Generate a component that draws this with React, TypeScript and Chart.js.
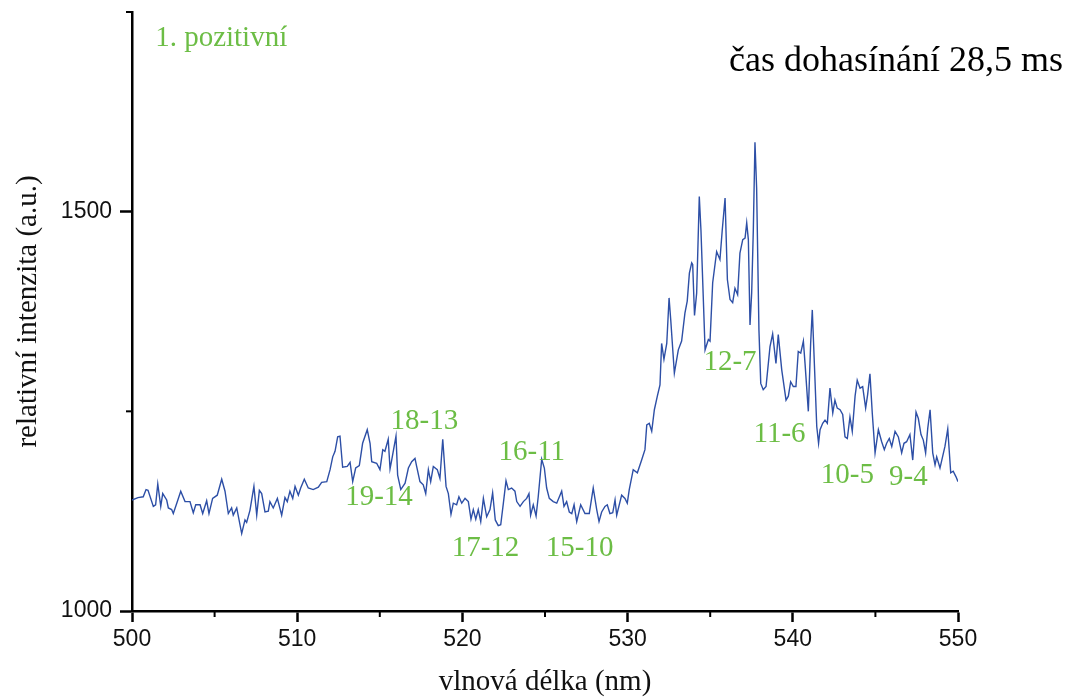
import React, { useEffect, useRef } from "react";
import { Chart, registerables } from "chart.js";

Chart.register(...registerables);

// wavelength (nm) and relative intensity (a.u.)
const wavelength = [
  500.0, 500.36, 500.68, 500.85, 500.97, 501.29, 501.43, 501.56, 501.74, 501.86,
  502.1, 502.2, 502.4, 502.5, 502.71, 502.95, 503.21, 503.51, 503.71, 503.86,
  504.12, 504.28, 504.52, 504.66, 504.88, 505.16, 505.43, 505.63, 505.83, 506.03,
  506.13, 506.34, 506.64, 506.84, 506.94, 507.14, 507.38, 507.55, 507.71, 507.85,
  508.05, 508.25, 508.35, 508.55, 508.8, 509.06, 509.26, 509.4, 509.56, 509.73,
  509.87, 510.07, 510.21, 510.43, 510.67, 510.97, 511.28, 511.48, 511.79, 511.99,
  512.15, 512.29, 512.45, 512.59, 512.75, 513.03, 513.2, 513.36, 513.54, 513.76,
  513.96, 514.24, 514.41, 514.51, 514.81, 515.01, 515.18, 515.31, 515.51, 515.62,
  515.72, 515.98, 516.08, 516.27, 516.53, 516.73, 516.93, 517.13, 517.23, 517.43,
  517.63, 517.78, 517.94, 518.08, 518.24, 518.48, 518.64, 518.81, 519.01, 519.15,
  519.31, 519.45, 519.65, 519.79, 519.96, 520.16, 520.36, 520.52, 520.66, 520.81,
  520.96, 521.11, 521.27, 521.47, 521.67, 521.83, 521.99, 522.17, 522.32, 522.48,
  522.64, 522.78, 522.98, 523.18, 523.29, 523.49, 523.69, 523.89, 524.03, 524.13,
  524.29, 524.46, 524.59, 524.8, 524.96, 525.1, 525.26, 525.5, 525.71, 526.01,
  526.15, 526.31, 526.47, 526.62, 526.76, 526.92, 527.16, 527.42, 527.68, 527.92,
  528.13, 528.27, 528.43, 528.63, 528.77, 528.93, 529.1, 529.24, 529.34, 529.64,
  529.84, 529.98, 530.1, 530.34, 530.59, 530.85, 531.05, 531.16, 531.31, 531.46,
  531.62, 531.8, 531.96, 532.06, 532.2, 532.37, 532.51, 532.61, 532.83, 533.07,
  533.27, 533.47, 533.61, 533.74, 533.88, 533.94, 534.05, 534.18, 534.34, 534.44,
  534.69, 534.89, 534.99, 535.15, 535.39, 535.59, 535.73, 535.9, 536.04, 536.2,
  536.36, 536.5, 536.66, 536.8, 536.97, 537.11, 537.21, 537.31, 537.41, 537.51,
  537.61, 537.71, 537.81, 537.95, 538.06, 538.21, 538.38, 538.62, 538.78, 538.98,
  539.12, 539.33, 539.59, 539.73, 539.87, 540.03, 540.19, 540.33, 540.48, 540.64,
  540.74, 540.94, 541.08, 541.18, 541.34, 541.45, 541.56, 541.65, 541.81, 541.95,
  542.09, 542.25, 542.42, 542.55, 542.69, 542.86, 543.02, 543.16, 543.3, 543.46,
  543.6, 543.77, 543.9, 544.07, 544.23, 544.41, 544.53, 544.67, 544.81, 544.98,
  545.18, 545.38, 545.54, 545.68, 545.84, 545.99, 546.19, 546.39, 546.59, 546.73,
  546.89, 547.09, 547.26, 547.46, 547.6, 547.76, 547.9, 548.04, 548.17, 548.31,
  548.47, 548.61, 548.71, 548.91, 549.21, 549.38, 549.56, 549.71, 549.88, 550.0,
];

const intensity = [
  1139, 1142, 1143, 1152, 1151, 1131, 1133, 1159, 1131, 1147,
  1139, 1129, 1127, 1122, 1135, 1150, 1137, 1137, 1123, 1133,
  1133, 1122, 1138, 1122, 1141, 1145, 1165, 1150, 1122, 1129,
  1120, 1129, 1097, 1114, 1111, 1126, 1156, 1120, 1151, 1147,
  1124, 1125, 1137, 1129, 1141, 1120, 1142, 1137, 1150, 1141,
  1156, 1145, 1154, 1165, 1154, 1152, 1155, 1161, 1162, 1177,
  1193, 1200, 1218, 1219, 1180, 1181, 1186, 1162, 1179, 1182,
  1210, 1227, 1210, 1187, 1185, 1177, 1202, 1200, 1215, 1178,
  1189, 1219, 1170, 1152, 1160, 1179, 1187, 1191, 1181, 1162,
  1158, 1147, 1177, 1162, 1181, 1177, 1166, 1215, 1156, 1147,
  1121, 1135, 1133, 1143, 1135, 1141, 1137, 1115, 1127, 1115,
  1127, 1112, 1141, 1118, 1127, 1148, 1114, 1107, 1108, 1135,
  1163, 1152, 1154, 1150, 1137, 1131, 1137, 1141, 1147, 1120,
  1133, 1119, 1143, 1190, 1179, 1154, 1141, 1137, 1135, 1150,
  1131, 1137, 1124, 1122, 1133, 1112, 1133, 1122, 1122, 1154,
  1127, 1112, 1124, 1131, 1133, 1122, 1123, 1139, 1120, 1145,
  1141, 1135, 1152, 1177, 1173, 1189, 1202, 1233, 1235, 1225,
  1252, 1269, 1283, 1335, 1315, 1335, 1392, 1365, 1298, 1327,
  1338, 1373, 1388, 1423, 1436, 1434, 1370, 1398, 1519, 1477,
  1327, 1340, 1338, 1411, 1450, 1440, 1477, 1517, 1415, 1390,
  1386, 1404, 1396, 1448, 1465, 1467, 1486, 1465, 1358, 1398,
  1477, 1587, 1530, 1352, 1285, 1277, 1281, 1331, 1347, 1310,
  1346, 1302, 1264, 1269, 1287, 1281, 1281, 1325, 1323, 1338,
  1310, 1250, 1335, 1377, 1291, 1231, 1210, 1227, 1235, 1239,
  1235, 1279, 1248, 1264, 1254, 1252, 1246, 1218, 1216, 1243,
  1225, 1269, 1289, 1279, 1281, 1254, 1271, 1297, 1248, 1198,
  1227, 1212, 1202, 1210, 1216, 1206, 1225, 1218, 1198, 1210,
  1212, 1221, 1189, 1249, 1241, 1221, 1214, 1198, 1229, 1252,
  1198, 1183, 1193, 1179, 1206, 1228, 1173, 1175, 1168, 1162,
];

const xMajorTicks = [500, 510, 520, 530, 540, 550];
const xMinorTicks = [505, 515, 525, 535, 545];
const yMajorTicks = [1000, 1500];
const yMinorTicks = [1250, 1750];

// band labels: text, wavelength, intensity (label centre)
const bandText = ["18-13", "19-14", "16-11", "17-12", "15-10", "12-7", "11-6", "10-5", "9-4"];
const bandX = [517.7, 514.95, 524.2, 521.4, 527.1, 536.2, 539.2, 543.3, 547.0];
const bandY = [1237, 1142, 1199, 1079, 1079, 1311, 1221, 1170, 1167];

const systemLabel = "1. pozitivní";
const timeLabel = "čas dohasínání 28,5 ms";
const xTitle = "vlnová délka (nm)";
const yTitle = "relativní intenzita (a.u.)";

const GREEN = "#6cbd45";
const BLUE = "#2d4fa6";
const SERIF = '"Liberation Serif", "Times New Roman", serif';
const SANS = '"Liberation Sans", Arial, sans-serif';

const extrasPlugin = {
  id: "extras",
  afterDraw(chart: any) {
    const { ctx, scales } = chart;
    const xs = scales.x;
    const ys = scales.y;
    ctx.save();
    ctx.strokeStyle = "#000";
    ctx.lineWidth = 2;
    // minor ticks
    xMinorTicks.forEach((v) => {
      const px = xs.getPixelForValue(v);
      ctx.beginPath();
      ctx.moveTo(px, xs.top);
      ctx.lineTo(px, xs.top + 6);
      ctx.stroke();
    });
    yMinorTicks.forEach((v) => {
      const py = ys.getPixelForValue(v);
      ctx.beginPath();
      ctx.moveTo(ys.right, py);
      ctx.lineTo(ys.right - 6, py);
      ctx.stroke();
    });
    // band labels
    ctx.fillStyle = GREEN;
    ctx.font = `29px ${SERIF}`;
    ctx.textAlign = "center";
    ctx.textBaseline = "middle";
    bandText.forEach((t, i) => {
      ctx.fillText(t, xs.getPixelForValue(bandX[i]), ys.getPixelForValue(bandY[i]));
    });
    ctx.textAlign = "left";
    ctx.fillText(systemLabel, xs.getPixelForValue(501.4), ys.getPixelForValue(1717));
    ctx.fillStyle = "#000";
    ctx.font = `36px ${SERIF}`;
    ctx.textAlign = "right";
    ctx.fillText(timeLabel, xs.getPixelForValue(556.35), ys.getPixelForValue(1688));
    ctx.restore();
  },
};

export default function App() {
  const ref = useRef<HTMLCanvasElement | null>(null);

  useEffect(() => {
    if (!ref.current) return;
    const points = wavelength.map((w, i) => ({ x: w, y: intensity[i] }));
    const chart = new Chart(ref.current, {
      type: "line",
      data: {
        datasets: [
          {
            data: points,
            borderColor: BLUE,
            borderWidth: 1.4,
            pointRadius: 0,
            tension: 0,
            fill: false,
          },
        ],
      },
      options: {
        responsive: false,
        animation: false,
        layout: { padding: { top: 12, right: 111, left: 0, bottom: 0 } },
        plugins: { legend: { display: false }, tooltip: { enabled: false } },
        scales: {
          x: {
            type: "linear",
            min: 500,
            max: 550,
            afterBuildTicks: (s: any) => {
              s.ticks = xMajorTicks.map((v) => ({ value: v }));
            },
            afterFit: (s: any) => {
              s.height = 88;
              s.paddingLeft = 0;
              s.paddingRight = 0;
            },
            border: { color: "#000", width: 2.5 },
            grid: { drawOnChartArea: false, drawTicks: true, tickLength: 11, tickColor: "#000", tickWidth: 2.5 },
            ticks: {
              color: "#111",
              font: { family: SANS, size: 23 },
              padding: 4,
              maxRotation: 0,
              callback: (v: any) => String(v),
            },
            title: {
              display: true,
              text: xTitle,
              color: "#111",
              font: { family: SERIF, size: 29, lineHeight: 1 },
              padding: { top: 0, bottom: 2 },
            },
          },
          y: {
            type: "linear",
            min: 1000,
            max: 1750,
            afterBuildTicks: (s: any) => {
              s.ticks = yMajorTicks.map((v) => ({ value: v }));
            },
            afterFit: (s: any) => {
              s.width = 132;
              s.paddingTop = 0;
              s.paddingBottom = 0;
            },
            border: { color: "#000", width: 2.5 },
            grid: { drawOnChartArea: false, drawTicks: true, tickLength: 12, tickColor: "#000", tickWidth: 2.5 },
            ticks: {
              color: "#111",
              font: { family: SANS, size: 23 },
              padding: 8,
              callback: (v: any) => String(v),
            },
            title: {
              display: true,
              text: yTitle,
              color: "#111",
              font: { family: SERIF, size: 29, lineHeight: 1 },
              padding: { top: 14, bottom: 0 },
            },
          },
        },
      },
      plugins: [extrasPlugin],
    });
    return () => chart.destroy();
  }, []);

  return (
    <div style={{ position: "absolute", left: 0, top: 0, width: 1069, height: 699, background: "#fff" }}>
      <canvas ref={ref} width={1069} height={699} style={{ display: "block" }} />
    </div>
  );
}
